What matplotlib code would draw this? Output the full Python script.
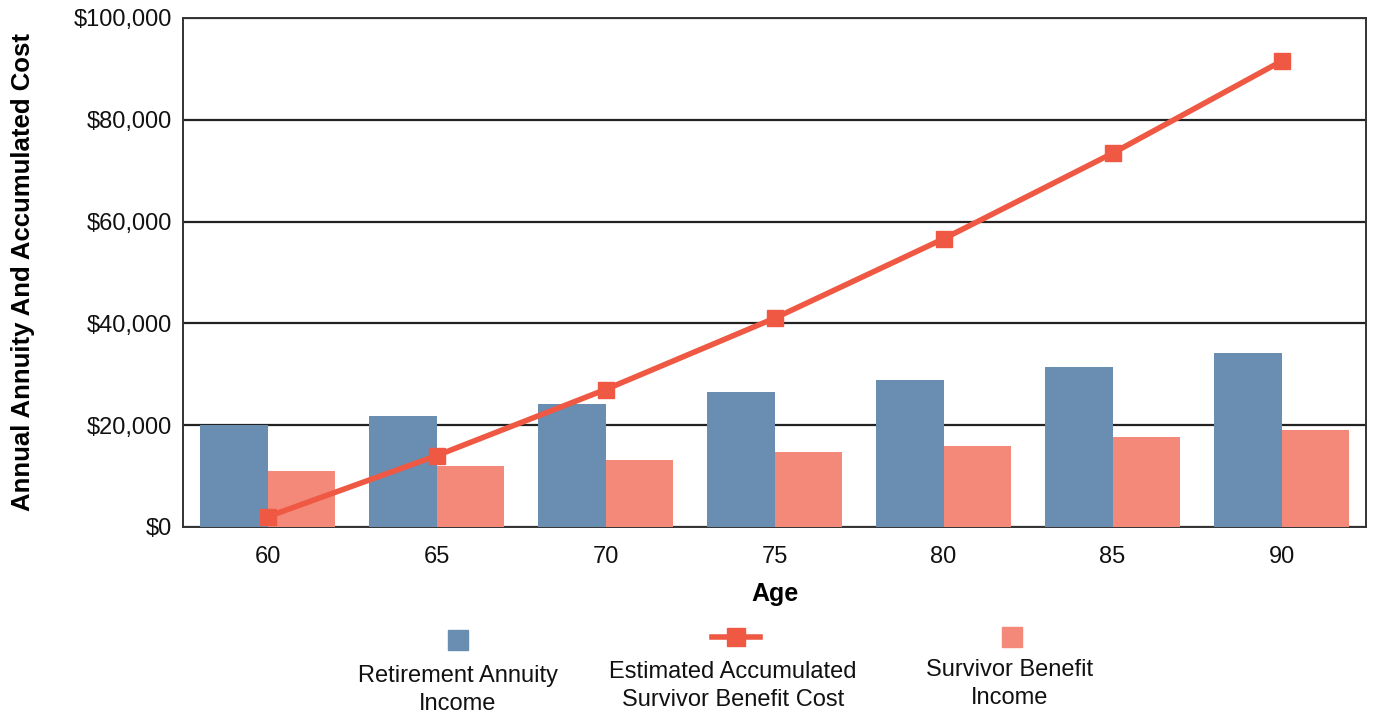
import matplotlib.pyplot as plt
import numpy as np
from matplotlib.lines import Line2D
from matplotlib.patches import Rectangle

plt.rcParams['font.family'] = ['Liberation Sans', 'DejaVu Sans']

# Ages and dollar amounts for each series
ages = [60, 65, 70, 75, 80, 85, 90]
annuity_income = [20000, 21800, 24200, 26500, 28800, 31500, 34200]
survivor_income = [11000, 12000, 13200, 14800, 16000, 17600, 19100]
accumulated_cost = [2000, 14000, 27000, 41000, 56600, 73400, 91500]

blue = '#6a8db2'
salmon = '#f4897a'
red = '#ef5843'

fig = plt.figure(figsize=(13.74, 7.15), dpi=100)
ax = fig.add_axes([0.1332, 0.263, 0.861, 0.712])

x = np.arange(len(ages))
w = 0.4
ax.bar(x - w / 2, annuity_income, w, color=blue, zorder=3)
ax.bar(x + w / 2, survivor_income, w, color=salmon, zorder=3)
ax.plot(x, accumulated_cost, color=red, lw=4, marker='s', ms=12, zorder=4)

ax.set_xlim(-0.5, len(ages) - 0.5)
ax.set_ylim(0, 100000)
ax.set_yticks(np.arange(0, 100001, 20000))
ax.set_yticklabels([f'${v:,}' for v in range(0, 100001, 20000)])
ax.set_xticks(x)
ax.set_xticklabels([str(a) for a in ages])
ax.tick_params(axis='both', labelsize=17, length=0, colors='#111111')
ax.tick_params(axis='x', pad=14)
ax.tick_params(axis='y', pad=8)
ax.grid(axis='y', color='#222222', lw=1.6, zorder=1)
for s in ax.spines.values():
    s.set_color('#333333')
    s.set_linewidth(1.4)

ax.set_xlabel('Age', fontsize=18, fontweight='bold', labelpad=10)
ax.set_ylabel('Annual Annuity And Accumulated Cost', fontsize=18.5,
              fontweight='bold', labelpad=28)

# Legend: each key sits above its two-line label
def fx(px):
    return px / 1374

def fy(py):
    return 1 - py / 715

sq = 20
fig.add_artist(Rectangle((fx(458 - sq / 2), fy(640 + sq / 2)), sq / 1374, sq / 715,
                         transform=fig.transFigure, color=blue))
fig.add_artist(Line2D([fx(712), fx(760)], [fy(637), fy(637)], transform=fig.transFigure,
                      color=red, lw=4))
fig.add_artist(Line2D([fx(736)], [fy(637)], transform=fig.transFigure,
                      color=red, marker='s', ms=13, lw=0))
fig.add_artist(Rectangle((fx(1012 - sq / 2), fy(637 + sq / 2)), sq / 1374, sq / 715,
                         transform=fig.transFigure, color=salmon))

legend_labels = ['Retirement Annuity\nIncome',
                 'Estimated Accumulated\nSurvivor Benefit Cost',
                 'Survivor Benefit\nIncome']
for cx, cy, txt in zip([458, 733, 1010], [690, 686, 684], legend_labels):
    fig.text(fx(cx), fy(cy), txt, ha='center', va='center', fontsize=17,
             linespacing=1.4, color='#111111')

fig.savefig('out.png', dpi=100)
